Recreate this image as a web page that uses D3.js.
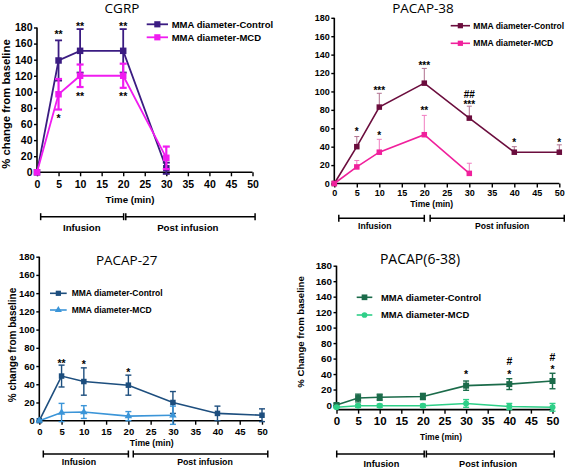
<!DOCTYPE html>
<html><head><meta charset="utf-8">
<script src="https://cdn.jsdelivr.net/npm/d3@7"></script>
<style>
body{margin:0;background:#fff}
svg text{font-family:"Liberation Sans",Arial,sans-serif;font-weight:bold;fill:#000}
svg text.title{font-family:"Open Sans","Liberation Sans",sans-serif;font-weight:normal}
</style>
</head><body>
<svg id="chart" width="567" height="468"></svg>
<script>
// ---------- data ----------
const timeTicks = [0,5,10,15,20,25,30,35,40,45,50];
const yTicks = [0,20,40,60,80,100,120,140,160,180];
const seriesNames = ["MMA diameter-Control","MMA diameter-MCD"];
const titles = ["CGRP","PACAP-38","PACAP-27","PACAP(6-38)"];
const yLabels = ["% change from baseline","","% change from baseline","% Change from baseline"];
const phaseLabels = ["Infusion","Post infusion"];

// CGRP
const cgrpTimeControl = [0,5,10,20,30];
const cgrpControl = [0,139,151,151,5];
const cgrpControlErr = [0,25,27,27,7];
const cgrpTimeMCD = [0,5,10,20,30];
const cgrpMCD = [0,97,120,120,18];
const cgrpMCDErr = [0,19,14,15,14];
const cgrpMarks = [[5,174,"**"],[10,185,"**"],[20,185,"**"],[10,98,"**"],[20,98,"**"],[5,70,"*"]];

// PACAP-38
const p38TimeControl = [0,5,10,20,30,40,50];
const p38Control = [0,40,83,109,71,34,34];
const p38ControlErr = [0,11,15,16,13,6,8];
const p38TimeMCD = [0,5,10,20,30];
const p38MCD = [0,18,34,53,11];
const p38MCDErr = [0,7,14,21,11];
const p38Marks = [[5,59,"*"],[10,104,"***"],[10,55,"*"],[20,131,"***"],[20,82,"**"],[30,97,"##"],[30,88,"***"],[40,47,"*"],[50,47,"*"]];

// PACAP-27
const p27TimeControl = [0,5,10,20,30,40,50];
const p27Control = [0,49,43,39,20,8,6];
const p27ControlErr = [0,12,15,11,12,8,7];
const p27TimeMCD = [0,5,10,20,30];
const p27MCD = [0,9,9.5,5,6];
const p27MCDErr = [0,10,7,5,10];
const p27Marks = [[5,66,"**"],[10,65,"*"],[20,56,"*"]];

// PACAP(6-38)
const p638TimeControl = [0,5,10,20,30,40,50];
const p638Control = [0,9,10,11,25,27,31];
const p638ControlErr = [2,5,4,4,6,7,10];
const p638TimeMCD = [0,5,10,20,30,40,50];
const p638MCD = [-3,-1,-1,-1,2,-2,-3];
const p638MCDErr = [1,2,2,2,5,4,5];
const p638Marks = [[30,43,"*"],[40,57,"#"],[40,43,"*"],[50,62,"#"],[50,49.5,"*"]];

// ---------- layout / style per panel ----------
const panels = [
 {title:titles[0], ylabel:yLabels[0], x0:37, x50:252.5, y0:172.3, y180:27.5, ymin:0,
  titleX:122, titleY:12.5, titleFs:13.5, tickFs:10.5, xTickFs:10.5, xPad:4,
  timeX:130, timeY:203, timeFs:9.7,
  ylabX:6.5, ylabY:104, ylabFs:11.3,
  brY:216.7, brInf:[0.85,20.1], brPost:[20.6,50.6], infX:10.4, postX:35, phY:230.5, phFs:9.7,
  leg:{x1:146.7,x2:168,tx:171.7,rows:[24.3,37.3],fs:9.5},
  marks:cgrpMarks, markFs:10.5,
  series:[
   {xs:cgrpTimeControl, v:cgrpControl, e:cgrpControlErr, both:true, color:"#3b1c82", ecolor:"#3b1c82", marker:"square", size:6.5, lw:1.8, elw:1.8, cap:7},
   {xs:cgrpTimeMCD, v:cgrpMCD, e:cgrpMCDErr, both:true, color:"#f01cf0", ecolor:"#f01cf0", marker:"square", size:6.5, lw:1.8, elw:2.2, cap:7}
  ]},
 {title:titles[1], ylabel:yLabels[1], x0:334.3, x50:559.3, y0:183.5, y180:17.8, ymin:0,
  titleX:423, titleY:12.8, titleFs:13.5, tickFs:9, xTickFs:9, xPad:2.5,
  timeX:431.7, timeY:207, timeFs:8.5,
  ylabX:0, ylabY:0, ylabFs:10,
  brY:218.3, brInf:[1.0,20.0], brPost:[21.3,51.1], infX:9.0, postX:37.3, phY:228.5, phFs:8.6,
  leg:{x1:450.7,x2:470,tx:473.3,rows:[25.7,43.3],fs:8.5},
  marks:p38Marks, markFs:10,
  series:[
   {xs:p38TimeControl, v:p38Control, e:p38ControlErr, both:false, color:"#6b0d3d", ecolor:"#b0708e", marker:"square", size:5.5, lw:1.6, elw:1, cap:5},
   {xs:p38TimeMCD, v:p38MCD, e:p38MCDErr, both:false, color:"#f0209c", ecolor:"#f07cc0", marker:"square", size:5.5, lw:1.6, elw:1, cap:5}
  ]},
 {title:titles[2], ylabel:yLabels[2], x0:39.3, x50:262, y0:420.7, y180:256.7, ymin:0,
  titleX:126.7, titleY:264.5, titleFs:13.5, tickFs:9.5, xTickFs:9.5, xPad:4,
  timeX:151.7, timeY:445.5, timeFs:8.7,
  ylabX:12.5, ylabY:345, ylabFs:10,
  brY:454, brInf:[0.9,20.0], brPost:[21.1,51.3], infX:8.9, postX:37.2, phY:465, phFs:8.8,
  leg:{x1:50,x2:66.7,tx:71.7,rows:[293.3,310],fs:8.5},
  marks:p27Marks, markFs:10.5,
  series:[
   {xs:p27TimeControl, v:p27Control, e:p27ControlErr, both:true, color:"#1d4e7e", ecolor:"#1d4e7e", marker:"square", size:5.5, lw:1.6, elw:1.4, cap:6},
   {xs:p27TimeMCD, v:p27MCD, e:p27MCDErr, both:true, color:"#3b95d8", ecolor:"#3b95d8", marker:"triangle", size:5.5, lw:1.6, elw:1.4, cap:6}
  ]},
 {title:titles[3], ylabel:yLabels[3], x0:336.5, x50:552.5, y0:405, y180:265.7, ymin:-6,
  titleX:420, titleY:263.5, titleFs:14, tickFs:9.8, xTickFs:11.5, xPad:3.5,
  timeX:441, timeY:440, timeFs:8.3,
  ylabX:301, ylabY:332, ylabFs:9.6,
  brY:454, brInf:[0.05,20.3], brPost:[20.8,50.4], infX:10.4, postX:35.1, phY:466.5, phFs:9.2,
  leg:{x1:356.7,x2:372.3,tx:381,rows:[297.3,315],fs:9.4},
  marks:p638Marks, markFs:10.5,
  series:[
   {xs:p638TimeControl, v:p638Control, e:p638ControlErr, both:true, color:"#1b6b4a", ecolor:"#1b6b4a", marker:"square", size:6, lw:1.6, elw:1.4, cap:6},
   {xs:p638TimeMCD, v:p638MCD, e:p638MCDErr, both:true, color:"#2fcf88", ecolor:"#2fcf88", marker:"circle", size:6, lw:1.6, elw:1.4, cap:6}
  ]}
];

const svg = d3.select("#chart");

function drawMarker(g, type, cx, cy, s, color){
  if(type==="square"){
    g.append("rect").attr("x",cx-s/2).attr("y",cy-s/2).attr("width",s).attr("height",s).attr("fill",color);
  } else if(type==="circle"){
    g.append("circle").attr("cx",cx).attr("cy",cy).attr("r",s/2).attr("fill",color);
  } else {
    g.append("path").attr("d",d3.symbol(d3.symbolTriangle, s*s*0.8)()).attr("transform",`translate(${cx},${cy})`).attr("fill",color);
  }
}

panels.forEach(p=>{
  const g = svg.append("g");
  const x = d3.scaleLinear().domain([0,50]).range([p.x0,p.x50]);
  const y = d3.scaleLinear().domain([0,180]).range([p.y0,p.y180]);
  const yBase = y(p.ymin);

  // title
  g.append("text").attr("class","title").attr("x",p.titleX).attr("y",p.titleY)
    .attr("text-anchor","middle").style("font-size",p.titleFs+"px").text(p.title);

  // y axis
  const ya = g.append("g").attr("transform",`translate(${x(0)},0)`)
    .call(d3.axisLeft(y).tickValues(yTicks).tickSize(3).tickSizeOuter(0).tickPadding(1.5));
  ya.select(".domain").remove();
  ya.selectAll(".tick line").attr("stroke","#000").attr("stroke-width",1.4);
  ya.selectAll("text").style("font-size",p.tickFs+"px").style("font-family",null);
  g.append("line").attr("x1",x(0)).attr("x2",x(0)).attr("y1",yBase).attr("y2",y(180))
    .attr("stroke","#000").attr("stroke-width",1.6);

  // x axis
  const xa = g.append("g").attr("transform",`translate(0,${yBase})`)
    .call(d3.axisBottom(x).tickValues(timeTicks).tickSize(4).tickSizeOuter(0).tickPadding(p.xPad));
  xa.select(".domain").remove();
  xa.selectAll(".tick line").attr("stroke","#000").attr("stroke-width",1.4);
  xa.selectAll("text").style("font-size",p.xTickFs+"px").style("font-family",null);
  g.append("line").attr("x1",x(0)).attr("x2",x(50)).attr("y1",yBase).attr("y2",yBase)
    .attr("stroke","#000").attr("stroke-width",1.6);

  // axis titles
  g.append("text").attr("x",p.timeX).attr("y",p.timeY).attr("text-anchor","middle")
    .style("font-size",p.timeFs+"px").text("Time (min)");
  if(p.ylabel){
    g.append("text").attr("transform",`translate(${p.ylabX},${p.ylabY}) rotate(-90)`)
      .attr("text-anchor","middle").attr("dy","0.35em").style("font-size",p.ylabFs+"px").text(p.ylabel);
  }

  // brackets
  [p.brInf,p.brPost].forEach(r=>{
    const a=x(r[0]), b=x(r[1]);
    g.append("line").attr("x1",a).attr("x2",b).attr("y1",p.brY).attr("y2",p.brY).attr("stroke","#000").attr("stroke-width",1.5);
    [a,b].forEach(xx=>g.append("line").attr("x1",xx).attr("x2",xx).attr("y1",p.brY-3.5).attr("y2",p.brY+3.5).attr("stroke","#000").attr("stroke-width",1.5));
  });
  g.append("text").attr("x",x(p.infX)).attr("y",p.phY).attr("text-anchor","middle").style("font-size",p.phFs+"px").text(phaseLabels[0]);
  g.append("text").attr("x",x(p.postX)).attr("y",p.phY).attr("text-anchor","middle").style("font-size",p.phFs+"px").text(phaseLabels[1]);

  // series
  p.series.forEach(s=>{
    const pts = s.xs.map((t,i)=>({t, v:s.v[i], e:s.e[i]}));
    const eg = g.append("g");
    pts.forEach(d=>{
      if(d.e<=0) return;
      const top=y(d.v+d.e), bot= s.both ? y(d.v-d.e) : y(d.v);
      const cx=x(d.t);
      eg.append("line").attr("x1",cx).attr("x2",cx).attr("y1",top).attr("y2",bot).attr("stroke",s.ecolor).attr("stroke-width",s.elw);
      eg.append("line").attr("x1",cx-s.cap/2).attr("x2",cx+s.cap/2).attr("y1",top).attr("y2",top).attr("stroke",s.ecolor).attr("stroke-width",s.elw);
      if(s.both) eg.append("line").attr("x1",cx-s.cap/2).attr("x2",cx+s.cap/2).attr("y1",bot).attr("y2",bot).attr("stroke",s.ecolor).attr("stroke-width",s.elw);
    });
    g.append("path").datum(pts)
      .attr("d",d3.line().x(d=>x(d.t)).y(d=>y(d.v)))
      .attr("fill","none").attr("stroke",s.color).attr("stroke-width",s.lw);
    pts.forEach(d=>drawMarker(g,s.marker,x(d.t),y(d.v),s.size,s.color));
  });

  // significance marks
  p.marks.forEach(m=>{
    const off = m[2].includes("#") ? 0.36 : 0.58;
    g.append("text").attr("x",x(m[0])).attr("y",y(m[1])+off*p.markFs)
      .attr("text-anchor","middle").style("font-size",p.markFs+"px").text(m[2]);
  });

  // legend
  p.series.forEach((s,i)=>{
    const ly=p.leg.rows[i];
    g.append("line").attr("x1",p.leg.x1).attr("x2",p.leg.x2).attr("y1",ly).attr("y2",ly).attr("stroke",s.color).attr("stroke-width",s.lw);
    drawMarker(g,s.marker,(p.leg.x1+p.leg.x2)/2,ly,s.size*0.95,s.color);
    g.append("text").attr("x",p.leg.tx).attr("y",ly).attr("dy","0.35em").style("font-size",p.leg.fs+"px").text(seriesNames[i]);
  });
});
</script>
</body></html>
